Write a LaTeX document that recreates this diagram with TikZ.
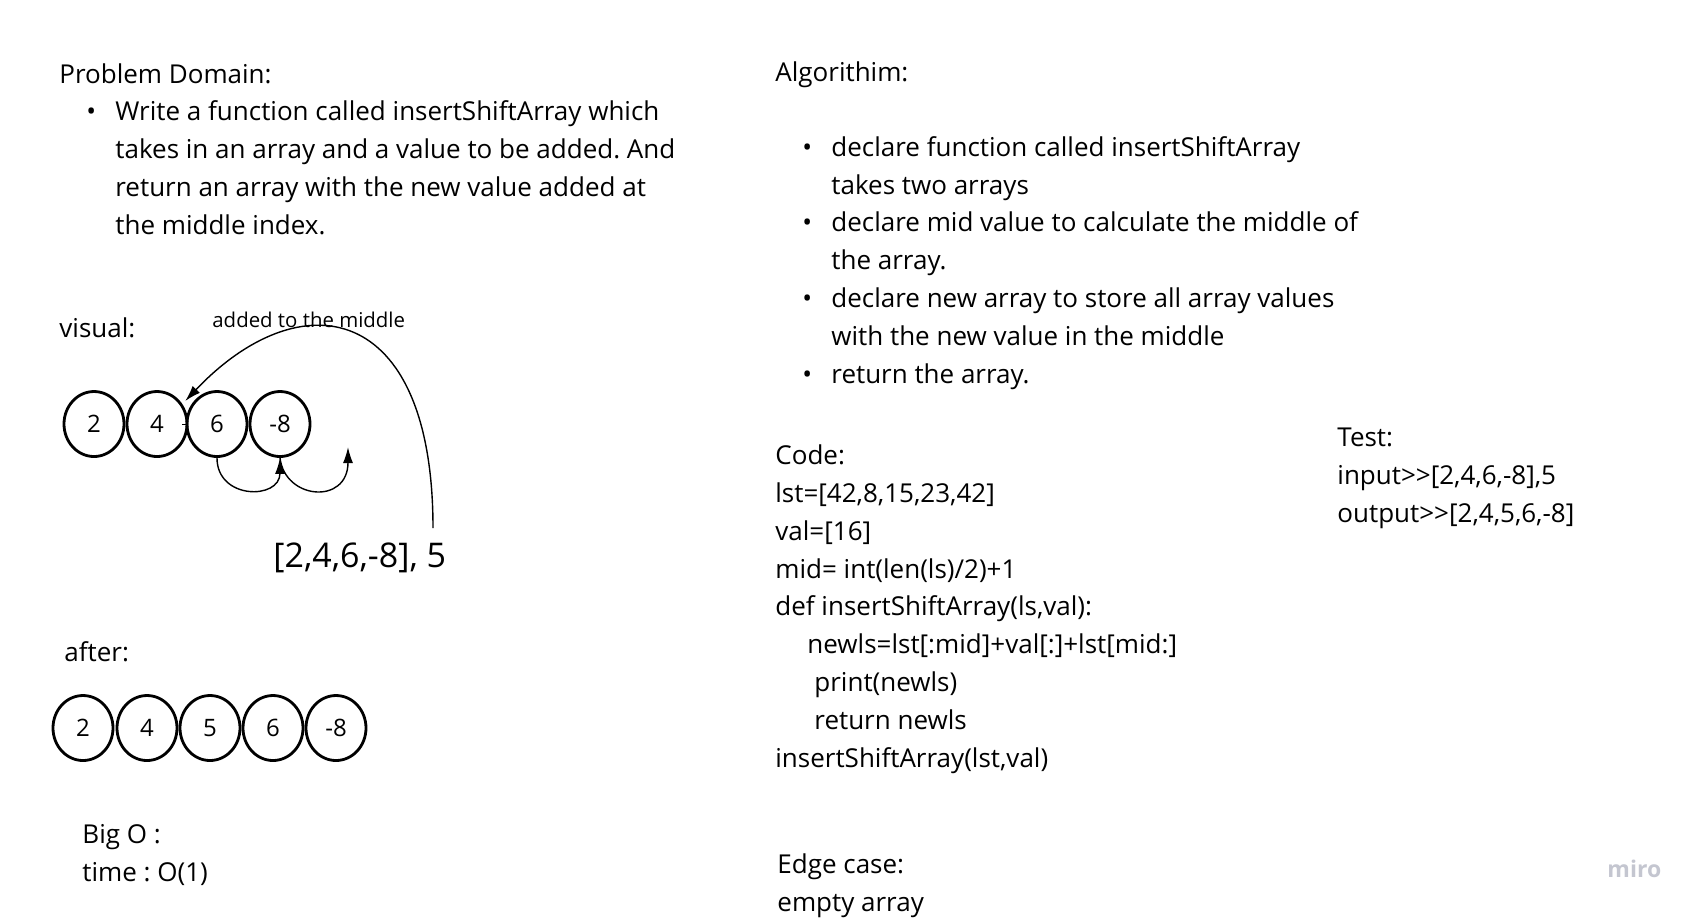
\documentclass[tikz,border=0pt]{standalone}
\usepackage{fontspec}
\setmainfont{Open Sans}
\frenchspacing
\usetikzlibrary{
    positioning,
    arrows.meta,
    calc,
    shapes.geometric
}
\definecolor{mirogray}{RGB}{196,198,208}
\tikzset{
    txt/.style={anchor=base west, inner sep=0pt, align=left, font=\fontsize{13}{18.9}\selectfont},
    elem/.style={ellipse, draw, line width=1.4pt, minimum width=30pt, minimum height=32.5pt,
        inner sep=0pt, font=\fontsize{12}{12}\selectfont},
    arr/.style={-{Latex[length=8pt,width=5pt]}, line width=0.7pt}
}
\newcommand{\bul}{\makebox[14.5pt][l]{•}}
\newcommand{\ind}{\hspace*{14.5pt}}

\begin{document}
\begin{tikzpicture}[x=0.5pt, y=-0.5pt]
    \useasboundingbox (0,0) rectangle (1700,918);
    % left column (multi-line nodes sit on the baseline of their last line)
    \node[txt] (domain) at (59,83) {Problem Domain:};
    \node[txt] (domainlist) at (86,234) {\bul Write a function called insertShiftArray which\\\ind takes in an array and a value to be added. And\\\ind return an array with the new value added at\\\ind the middle index.};
    \node[txt] (visual) at (59,337) {visual:};
    \node[txt, font=\fontsize{10.2}{12}\selectfont] (note) at (212,327) {added to the middle};
    \foreach \val/\x [count=\i] in {2/94, 4/157, 6/217, -8/280}
        \node[elem] (v\i) at (\x,424) {\val};
    \node[txt, font=\fontsize{17}{20}\selectfont] (inp) at (273,567) {[2,4,6,-8], 5};
    \coordinate (five) at (433,528);
    \coordinate (free) at (348,447);
    \draw[arr] (five) .. controls (433,300) and (300,280) .. ($(v2.north east)+(6,1)$);
    \draw[arr] (v3.south) .. controls (217,500) and (280,500) .. (v4.south);
    \draw[arr] (v4.south) .. controls (285,500) and (348,505) .. (free);
    \draw[line width=0.5pt] ($(v2.east)+(-6,0)$) -- (v2.east);
    \node[txt] (after) at (64,661) {after:};
    \foreach \val/\x [count=\i] in {2/83, 4/147, 5/210, 6/273, -8/336}
        \node[elem] (a\i) at (\x,728) {\val};
    \node[txt] (bigo) at (82,881) {Big O :\\time : O(1)};
    % right column
    \node[txt] (algo) at (775,81) {Algorithim:};
    \node[txt] (algolist) at (802,383) {\bul declare function called insertShiftArray\\\ind takes two arrays\\\bul declare mid value to calculate the middle of\\\ind the array.\\\bul declare new array to store all array values\\\ind with the new value in the middle\\\bul return the array.};
    \node[txt] (code) at (775,767) {Code:\\lst=[42,8,15,23,42]\\val=[16]\\mid= int(len(ls)/2)+1\\def insertShiftArray(ls,val):\\\hspace*{16pt}newls=lst[:mid]+val[:]+lst[mid:]\\\hspace*{19.5pt}print(newls)\\\hspace*{19.5pt}return newls\\insertShiftArray(lst,val)};
    \node[txt] (test) at (1337,522) {Test:\\input>{}>[2,4,6,-8],5\\output>{}>[2,4,5,6,-8]};
    \node[txt] (edge) at (777,911) {Edge case:\\empty array};
    \node[txt, text=mirogray, font=\fontsize{11.5}{12}\selectfont\bfseries] (logo) at (1607,877) {miro};
\end{tikzpicture}
\end{document}
